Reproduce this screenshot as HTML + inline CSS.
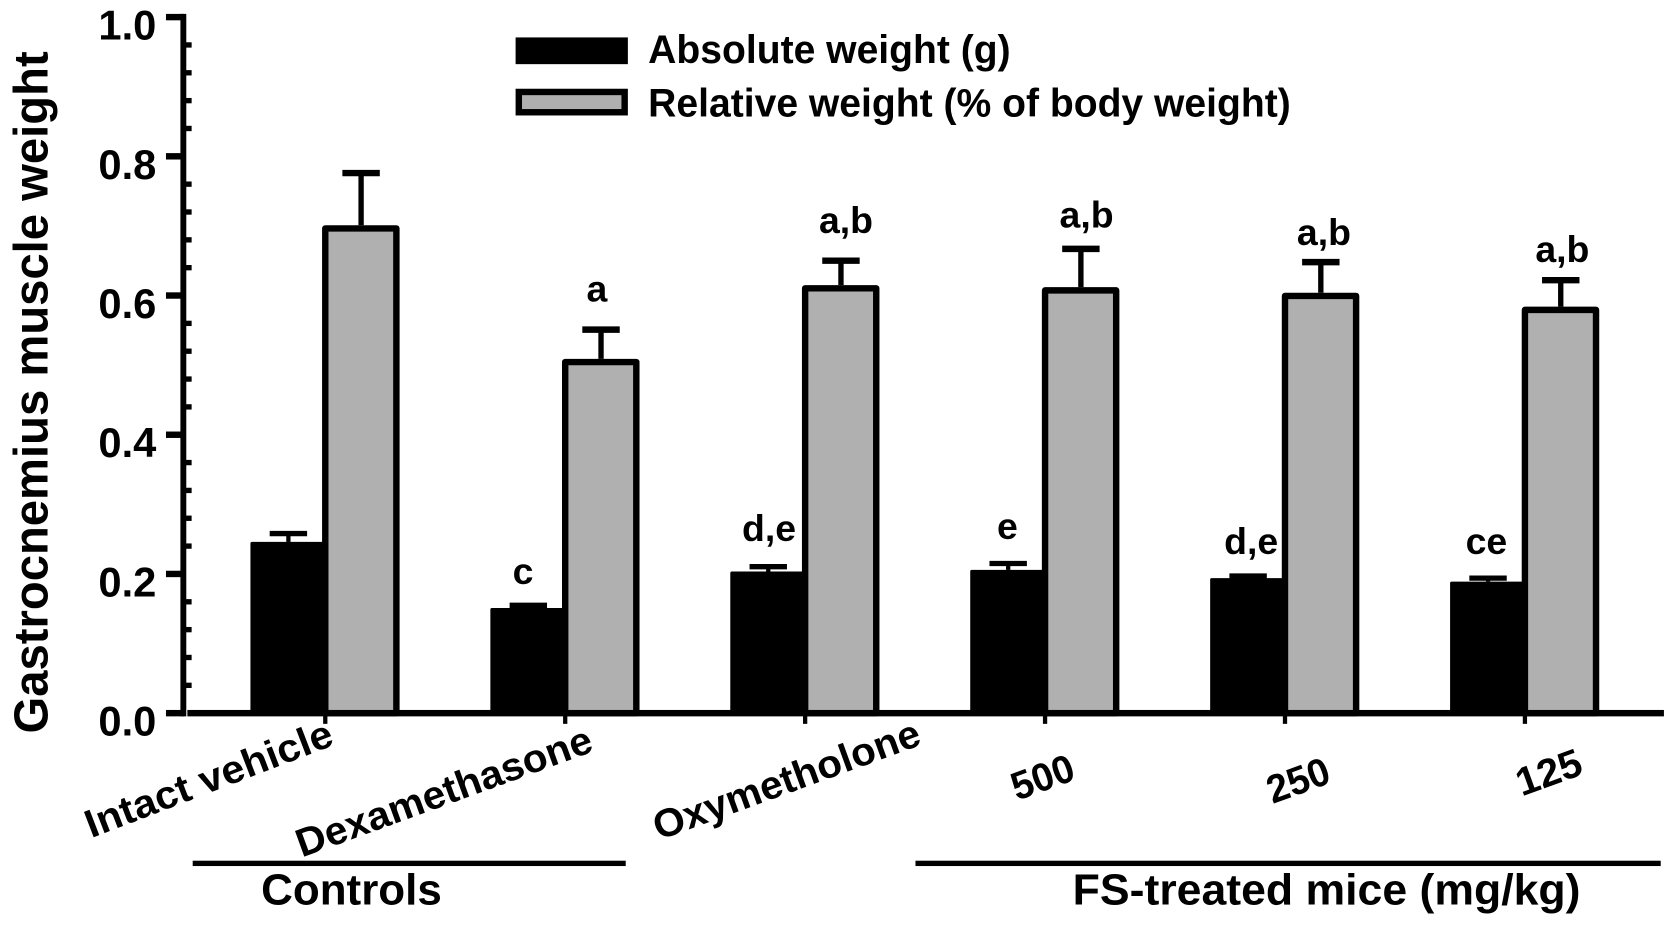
<!DOCTYPE html>
<html lang="en">
<head>
<meta charset="utf-8">
<title>Gastrocnemius muscle weight</title>
<style>
html,body{margin:0;padding:0;background:#fff;}
svg{display:block;}
text{font-family:"Liberation Sans",Arial,sans-serif;font-weight:bold;fill:#000;}
</style>
</head>
<body>
<svg id="chart" xmlns="http://www.w3.org/2000/svg" width="1677" height="927" viewBox="0 0 1568 867">
  <rect x="0" y="0" width="1568" height="867" fill="#fff"/>
  <g id="marks"></g>
  <g id="axes"></g>

  <text transform="translate(44,686) rotate(-90)" font-size="45" textLength="638" lengthAdjust="spacingAndGlyphs">Gastrocnemius muscle weight</text>

  <rect x="482" y="35" width="105" height="25" fill="#000"/>
  <text x="606" y="59" font-size="37" textLength="339" lengthAdjust="spacingAndGlyphs">Absolute weight (g)</text>
  <rect x="485" y="86" width="99" height="19" fill="#b0b0b0" stroke="#000" stroke-width="6"/>
  <text x="606" y="109" font-size="37" textLength="601" lengthAdjust="spacingAndGlyphs">Relative weight (% of body weight)</text>

  <g>
    <text x="558" y="282" text-anchor="middle" font-size="35">a</text>
    <text x="791" y="218" text-anchor="middle" font-size="35">a,b</text>
    <text x="1016" y="213" text-anchor="middle" font-size="35">a,b</text>
    <text x="1238" y="229" text-anchor="middle" font-size="35">a,b</text>
    <text x="1461" y="245" text-anchor="middle" font-size="35">a,b</text>
    <text x="489" y="546" text-anchor="middle" font-size="35">c</text>
    <text x="719" y="506" text-anchor="middle" font-size="35">d,e</text>
    <text x="942" y="504" text-anchor="middle" font-size="35">e</text>
    <text x="1170" y="518" text-anchor="middle" font-size="35">d,e</text>
    <text x="1390" y="518" text-anchor="middle" font-size="35">ce</text>
  </g>

  <g>
    <text transform="translate(85,784) rotate(-21)" font-size="37" textLength="245" lengthAdjust="spacingAndGlyphs">Intact vehicle</text>
    <text transform="translate(282,802) rotate(-20)" font-size="37" textLength="292" lengthAdjust="spacingAndGlyphs">Dexamethasone</text>
    <text transform="translate(616,786) rotate(-20)" font-size="37" textLength="263" lengthAdjust="spacingAndGlyphs">Oxymetholone</text>
    <text transform="translate(951,749) rotate(-20)" font-size="37" textLength="60" lengthAdjust="spacingAndGlyphs">500</text>
    <text transform="translate(1190,752) rotate(-20)" font-size="37" textLength="60" lengthAdjust="spacingAndGlyphs">250</text>
    <text transform="translate(1423,745) rotate(-20)" font-size="37" textLength="63" lengthAdjust="spacingAndGlyphs">125</text>
  </g>

  <rect x="180" y="805" width="405" height="5" fill="#000"/>
  <text x="244" y="846" font-size="41" textLength="169" lengthAdjust="spacingAndGlyphs">Controls</text>
  <rect x="856" y="805" width="697" height="5" fill="#000"/>
  <text x="1003" y="846" font-size="41" textLength="475" lengthAdjust="spacingAndGlyphs">FS-treated mice (mg/kg)</text>
</svg>

<script>
const categories = ['Intact vehicle', 'Dexamethasone', 'Oxymetholone', '500', '250', '125'];
const absoluteValues = [0.246, 0.151, 0.2035, 0.2058, 0.194, 0.189];
const absoluteUpper = [0.258, 0.155, 0.2104, 0.215, 0.197, 0.194];
const relativeValues = [0.701, 0.509, 0.615, 0.612, 0.604, 0.584];
const relativeUpper = [0.776, 0.551, 0.650, 0.667, 0.648, 0.622];
const majorTicks = [0, 0.2, 0.4, 0.6, 0.8, 1.0];
const tickLabels = ['0.0', '0.2', '0.4', '0.6', '0.8', '1.0'];

const NS = 'http://www.w3.org/2000/svg';
const marks = document.getElementById('marks');
const axes = document.getElementById('axes');

function yScale(v) { return 667 - v * 651; }
function groupX(i) { return 304 + i * 224.4; }
function make(tag, attrs, parent) {
  const node = document.createElementNS(NS, tag);
  for (const k in attrs) node.setAttribute(k, attrs[k]);
  parent.appendChild(node);
  return node;
}
function errorBar(cx, yTop, yBase, parent, stroke, capW) {
  const g = make('g', {}, parent);
  make('line', {x1: cx, x2: cx, y1: yTop, y2: yBase, stroke: '#000', 'stroke-width': stroke}, g);
  make('line', {x1: cx - capW / 2, x2: cx + capW / 2, y1: yTop, y2: yTop, stroke: '#000', 'stroke-width': stroke + 1}, g);
  return g;
}

categories.forEach(function (cat, i) {
  const key = cat.toLowerCase().replace(/\s+/g, '-');
  const cx = groupX(i);

  const absErr = errorBar(cx - 34.5, yScale(absoluteUpper[i]), yScale(absoluteValues[i]), marks, 4, 35);
  
  

  const relErr = errorBar(cx + 33.5, yScale(relativeUpper[i]), yScale(relativeValues[i]), marks, 5, 35);
  
  

  const relBar = make('rect', {x: cx, y: yScale(relativeValues[i]) + 3, width: 66.5, height: yScale(0) - yScale(relativeValues[i]) - 3, fill: '#b0b0b0', stroke: '#000', 'stroke-width': 6, 'stroke-linejoin': 'round'}, marks);
  
  

  const absBar = make('rect', {x: cx - 70, y: yScale(absoluteValues[i]), width: 72.5, height: yScale(0) - yScale(absoluteValues[i]), fill: '#000', rx: 1.5}, marks);
  
  

  const tick = make('rect', {x: cx - 2, y: yScale(0), width: 4, height: 10, fill: '#000'}, axes);
  
  
});

const xAxis = make('rect', {x: 175, y: yScale(0) - 3, width: 1381, height: 6, fill: '#000'}, axes);



const yAxis = make('rect', {x: 168.5, y: yScale(1) - 3, width: 5.5, height: yScale(0) - yScale(1) + 6, fill: '#000'}, axes);



majorTicks.forEach(function (v, i) {
  const tick = make('rect', {x: 155, y: yScale(v) - 3, width: 17, height: 6, fill: '#000'}, axes);
  
  

  const label = make('text', {x: 146, y: yScale(v) + 21, 'text-anchor': 'end', 'font-size': 39}, axes);
  label.textContent = tickLabels[i];
  
  

  if (i < majorTicks.length - 1) {
    const step = (majorTicks[i + 1] - v) / 5;
    for (let m = 1; m < 5; m++) {
      const minor = make('rect', {x: 172, y: yScale(v + step * m) - 2.5, width: 7, height: 5, fill: '#000'}, axes);
      
      
    }
  }
});
</script>
</body>
</html>
